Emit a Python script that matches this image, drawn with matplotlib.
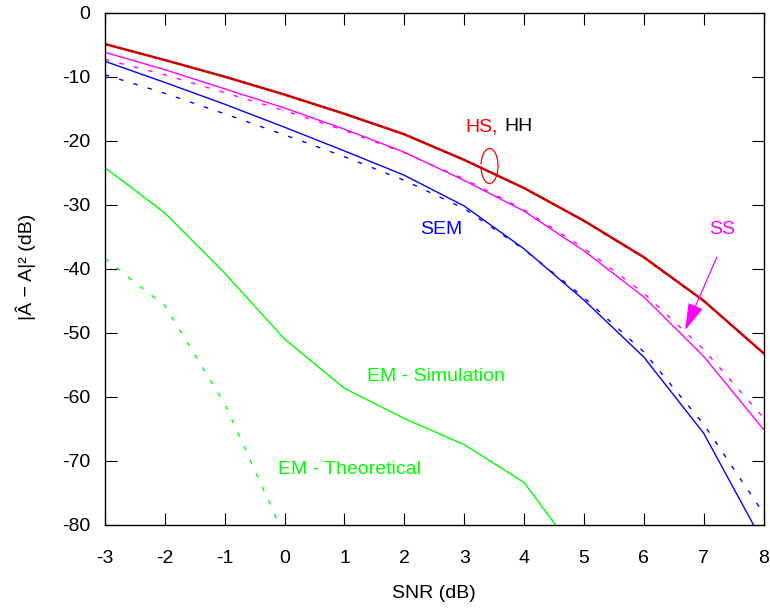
import matplotlib
matplotlib.use("Agg")
import matplotlib.pyplot as plt
from matplotlib.patches import Arc

plt.rcParams['font.family'] = ['Liberation Sans', 'DejaVu Sans']
plt.rcParams['font.size'] = 14

snr = [-3, -2, -1, 0, 1, 2, 3, 4, 5, 6, 7, 8]
hs = [-4.9, -7.4, -10.0, -12.8, -15.8, -19.0, -23.0, -27.4, -32.5, -38.2, -45.0, -53.2]
hh = [-4.9, -7.4, -10.0, -12.8, -15.8, -19.0, -23.0, -27.4, -32.6, -38.3, -45.1, -53.3]
ss_sim = [-6.2, -8.9, -11.9, -14.9, -18.2, -21.8, -26.2, -31.0, -37.2, -44.4, -53.7, -65.1]
ss_theo = [-7.3, -9.7, -12.5, -15.3, -18.4, -21.9, -26.0, -30.8, -36.8, -43.8, -52.6, -63.3]
sem_sim = [-7.6, -10.9, -14.3, -17.9, -21.6, -25.4, -30.2, -36.9, -44.9, -53.8, -65.7, -82.9]
sem_theo = [-9.7, -12.6, -15.8, -19.1, -22.5, -26.2, -30.6, -37.0, -44.5, -53.0, -64.3, -78.2]
snr_em = [-3, -2, -1, 0, 1, 2, 3, 4, 5]
em_sim = [-24.2, -31.3, -40.7, -51.0, -58.7, -63.4, -67.5, -73.4, -86.0]
snr_emt = [-3, -2, -1, 0]
em_theo = [-38.4, -45.8, -61.1, -81.8]

xticks = list(range(-3, 9))
yticks = list(range(-80, 1, 10))

fig = plt.figure(figsize=(7.7, 6.11), dpi=100)
ax = fig.add_axes([105/770, 1 - 524.7/611, (763.5-105)/770, (524.7-12.7)/611])

dash = (0, (3.2, 7.5))
ax.plot(snr_em, em_sim, color='#00ff00', lw=1.0)
ax.plot(snr_emt, em_theo, color='#00ff00', lw=1.0, linestyle=dash)
ax.plot(snr, sem_sim, color='#0000ff', lw=1.0)
ax.plot(snr, sem_theo, color='#0000ff', lw=1.0, linestyle=dash)
ax.plot(snr, ss_sim, color='#ff00ff', lw=1.0)
ax.plot(snr, ss_theo, color='#ff00ff', lw=1.0, linestyle=dash)
ax.plot(snr, hs, color='#d40000', lw=1.8)
ax.plot(snr, hh, color='#990000', lw=0.8, linestyle=dash)

ax.set_xlim(-3, 8)
ax.set_ylim(-80, 0)
ax.set_xticks(xticks)
ax.set_yticks(yticks)
ax.set_xticklabels([str(v) for v in xticks])
ax.set_yticklabels([str(v) for v in yticks])
ax.tick_params(direction='in', length=8.6, width=0.8, top=True, right=True,
               labelsize=14, color='black')
ax.tick_params(axis='x', pad=18)
ax.tick_params(axis='y', pad=10.5)
for s in ax.spines.values():
    s.set_linewidth(1.0)

fig.text(434/770, 1 - 593/611, 'SNR (dB)', ha='center', va='center', fontsize=14)
fig.text(26/770, 1 - 267/611, '|Â − A|² (dB)', ha='center', va='center',
         rotation=90, fontsize=14)

ax.text(3.014, -18.56, 'HS,', color='#ff0000', ha='left', va='baseline', fontsize=14)
ax.text(3.67, -18.56, 'HH', color='black', ha='left', va='baseline', fontsize=14)
ax.add_patch(Arc((3.423, -23.95), 0.284, 5.47, theta1=200, theta2=480,
                 color='#ff0000', lw=0.9))
ax.text(2.623, -33.95, 'SEM', color='#0000ff', ha='center', va='center', fontsize=14)
ax.text(7.312, -33.8, 'SS', color='#ff00ff', ha='center', va='center', fontsize=14)
ax.annotate('', xy=(6.69, -49.6), xytext=(7.22, -38.2),
            arrowprops=dict(arrowstyle='-|>,head_length=1.2,head_width=0.35',
                            color='#ff00ff', lw=0.9, shrinkA=0, shrinkB=0))
ax.text(2.534, -56.9, 'EM - Simulation', color='#00ff00', ha='center', va='center', fontsize=14)
ax.text(1.08, -71.3, 'EM - Theoretical', color='#00ff00', ha='center', va='center', fontsize=14)

fig.savefig('out.png', dpi=100)
